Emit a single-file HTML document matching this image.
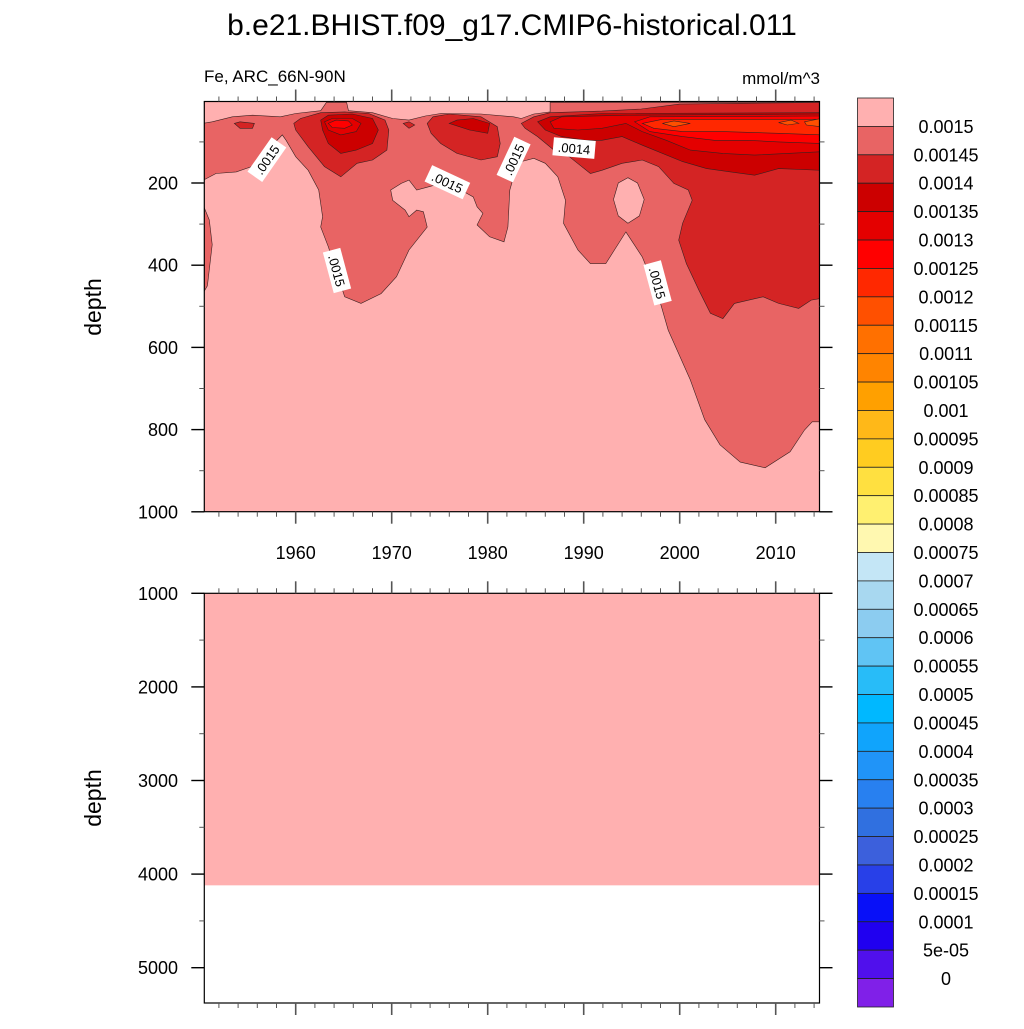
<!DOCTYPE html>
<html><head><meta charset="utf-8">
<style>
html,body{margin:0;padding:0;background:#fff;}
svg text{font-family:"Liberation Sans",sans-serif;}
</style></head>
<body>
<svg id="chart" width="1024" height="1024" viewBox="0 0 1024 1024" xmlns="http://www.w3.org/2000/svg">
<text x="512" y="35" font-size="30" text-anchor="middle">b.e21.BHIST.f09_g17.CMIP6-historical.011</text>
<text x="204" y="82" font-size="17">Fe, ARC_66N-90N</text>
<text x="820" y="84" font-size="17" text-anchor="end">mmol/m^3</text>
<g id="topPanel"></g>
<g id="bottomPanel"></g>
<g id="cbar"></g>
<text transform="translate(101,307) rotate(-90)" font-size="23" text-anchor="middle">depth</text>
<text transform="translate(101,798) rotate(-90)" font-size="23" text-anchor="middle">depth</text>
</svg>
<script>
const NS='http://www.w3.org/2000/svg';
// ---- data ----
const levelColors=['#FFB0B0','#E86464','#D42424','#CC0000','#E40000','#FF0000','#FF2800','#FF5000','#FF7000','#FF8400','#FFA000','#FFB818','#FFCC20','#FFE040','#FFF070','#FFF8B0','#C4E6F6','#A8D8F0','#8CCCF0','#60C4F4','#28BCF8','#00B8FF','#10A4FC','#2094F8','#2880F0','#3070E0','#3C60DC','#2840E8','#0810F8','#2000F0','#5010EC','#8020E8'];
const levelLabels=['0.0015','0.00145','0.0014','0.00135','0.0013','0.00125','0.0012','0.00115','0.0011','0.00105','0.001','0.00095','0.0009','0.00085','0.0008','0.00075','0.0007','0.00065','0.0006','0.00055','0.0005','0.00045','0.0004','0.00035','0.0003','0.00025','0.0002','0.00015','0.0001','5e-05','0'];
const yearTicks=[1960,1970,1980,1990,2000,2010];
const topDepthTicks=[200,400,600,800,1000];
const botDepthTicks=[1000,2000,3000,4000,5000];
const deepFillDepth=4120;
const regionMedium=[[1950.3,55],[1951.3,51],[1953.4,39],[1955.5,35],[1958.4,39],[1960,31],[1962.6,24],[1963.2,4],[1965.3,4],[1965.5,24],[1968,29],[1970.1,43],[1971.8,47],[1973.5,37],[1975.1,31],[1979.3,32],[1982.7,39],[1983.5,43],[1984.8,32],[1986.5,27],[1986.5,4],[2014.7,4],[2014.7,781],[2013.8,781],[2013,801],[2011.5,854],[2008.9,893],[2006.3,879],[2004.2,837],[2002.6,776],[2001.1,679],[1998.8,558],[1997.8,477],[1996.1,380],[1994.4,319],[1993.2,363],[1992.3,396],[1990.7,396],[1989.4,363],[1987.9,298],[1988.1,242],[1987.3,185],[1986,152],[1984.8,140],[1983.5,148],[1982.7,185],[1982.3,217],[1982.1,307],[1981.7,343],[1980.2,331],[1978.9,302],[1979.5,274],[1978.9,258],[1978.5,234],[1977.2,217],[1975.1,201],[1973.9,209],[1972.6,217],[1971.8,193],[1971,201],[1969.9,217],[1970.1,242],[1971.4,266],[1971.8,282],[1972.6,266],[1973.3,270],[1973.7,307],[1971.8,363],[1970.5,428],[1968.9,469],[1966.8,493],[1965.1,477],[1963.4,355],[1962.6,307],[1962.8,282],[1962.4,217],[1961.3,169],[1960,136],[1959,96],[1958.6,83],[1955.4,160],[1953.8,173],[1951.7,177],[1950.4,193],[1950.3,193]];
const regionLeftStrip=[[1950.3,250],[1951,290],[1951.3,350],[1950.8,450],[1950.3,470]];
const holeEllipse=[[1994.6,187],[1995.6,200],[1996.3,240],[1995.8,280],[1994.6,298],[1993.6,280],[1993.1,240],[1993.6,200]];
const regionD1=[[1959.8,55],[1960.5,43],[1962.6,29],[1965.1,27],[1967.6,31],[1969.3,47],[1969.7,71],[1969.5,120],[1968,144],[1966.4,152],[1964.7,185],[1963,160],[1961.3,112],[1960,71]];
const regionD2=[[1953.6,55],[1954.2,51],[1955.7,55],[1955.5,67],[1954.2,67]];
const regionD3=[[1971.2,55],[1971.8,51],[1972.4,59],[1971.8,67]];
const regionD4=[[1973.7,55],[1974.3,39],[1976,32],[1979.3,39],[1981,63],[1981.3,104],[1981,136],[1979.3,144],[1976.8,128],[1975.1,104],[1974.1,79]];
const regionD5=[[1983.5,55],[1984.8,39],[1986.5,29],[1991.9,25],[1996,20],[2000,8],[2014.7,4],[2014.7,481],[2013.7,485],[2012.4,505],[2010.3,493],[2008.7,477],[2005.7,493],[2004.5,530],[2003.2,517],[2002,461],[2000.7,396],[1999.9,339],[2000.3,298],[2001.3,242],[2000.9,217],[1999.4,201],[1997.8,160],[1996.1,144],[1994,152],[1991.9,169],[1990.7,177],[1988.5,136],[1986.9,120],[1985.2,87],[1983.9,67]];
const regionC1=[[1962.6,47],[1963.4,35],[1965.9,32],[1968,43],[1968.6,71],[1968,104],[1966.3,120],[1964.7,128],[1963.4,104],[1962.8,71]];
const regionC2=[[1976,55],[1976.8,47],[1978.5,43],[1980.2,55],[1980,79],[1978.1,71]];
const regionC3=[[1985.2,51],[1986.5,39],[1991.9,31],[2014.7,29],[2014.7,169],[2010.3,165],[2007.8,181],[2005.3,173],[2002.8,165],[2000.3,148],[1996.1,108],[1994,87],[1991.9,96],[1990.2,96],[1987.7,87],[1986,71]];
const regionE1=[[1963,51],[1963.8,43],[1965.9,43],[1966.8,55],[1966.3,75],[1964.7,83],[1963.4,71]];
const regionE3=[[1986.5,51],[1987.7,39],[1994.4,35],[2014.7,32],[2014.7,124],[2011.2,128],[2007.8,132],[2004.5,128],[2001.1,120],[1998.6,96],[1996.1,75],[1994.4,55],[1991.9,67],[1989.4,71],[1986.9,67]];
const regionF1=[[1963.4,55],[1964.2,47],[1965.5,49],[1965.9,59],[1965.1,67],[1963.8,65]];
const regionF3=[[1995.3,51],[1996.9,39],[2014.7,37],[2014.7,104],[2010.3,100],[2007,96],[2003.6,96],[2000.3,87],[1996.9,75]];
const regionG3=[[1996.1,55],[1998.2,45],[2014.7,45],[2014.7,83],[2010.3,79],[2004.5,75],[2000.3,75],[1997.3,67]];
const regionH3a=[[1998.2,55],[1999.4,49],[2001.1,55],[1999.4,63]];
const regionH3b=[[2010.3,53],[2011.6,47],[2012.4,55],[2011.2,59]];
const regionH3c=[[2013,51],[2014.7,43],[2014.7,63],[2013.2,59]];
const contourLabels=[['.0015',1957.0,143,-55],['.0015',1964.3,413,75],['.0015',1975.8,198,25],['.0015',1982.7,143,-65],['.0014',1989.0,115,5],['.0015',1997.7,443,75]];

// ---- axes ----
const L=204.3,R=819.5,T1=101.5,B1=511.7,T2=593.3,B2=1003;
const xS=y=>295.7+(y-1960)*9.6;
const yTop=d=>100.8+d*0.411;
const yBot=d=>593.3+(d-1000)*0.0936;
function el(tag,attrs,parent){const e=document.createElementNS(NS,tag);for(const k in attrs)e.setAttribute(k,attrs[k]);parent.appendChild(e);return e;}
const topG=document.getElementById('topPanel');
const botG=document.getElementById('bottomPanel');
const cbG=document.getElementById('cbar');
const defs=el('defs',{},document.getElementById('chart'));
const cp=el('clipPath',{id:'clipTop'},defs);
el('rect',{x:L,y:T1,width:R-L,height:B1-T1},cp);
const plotG=el('g',{'clip-path':'url(#clipTop)'},topG);


const bg=el('rect',{x:L,y:T1,width:R-L,height:B1-T1,fill:levelColors[0]},plotG);


function poly(pts,ci,name){
  const p=el('polygon',{points:pts.map(q=>xS(q[0]).toFixed(1)+','+yTop(q[1]).toFixed(1)).join(' '),fill:levelColors[ci],stroke:'#3a2020','stroke-width':'0.6'},plotG);
  
  
}
poly(regionMedium,1,'contour-region-00145');
poly(regionLeftStrip,1,'contour-region-left-strip');
poly(holeEllipse,0,'contour-hole-1995');
poly(regionD1,2,'contour-region-0014-1964');
poly(regionD2,2,'contour-region-0014-1954');
poly(regionD3,2,'contour-region-0014-1971');
poly(regionD4,2,'contour-region-0014-1977');
poly(regionD5,2,'contour-region-0014-recent');
poly(regionC1,3,'contour-region-00135-1964');
poly(regionC2,3,'contour-region-00135-1978');
poly(regionC3,3,'contour-region-00135-recent');
poly(regionE1,4,'contour-region-0013-1964');
poly(regionE3,4,'contour-region-0013-recent');
poly(regionF1,5,'contour-region-00125-1964');
poly(regionF3,5,'contour-region-00125-recent');
poly(regionG3,6,'contour-region-0012-recent');
poly(regionH3a,7,'contour-region-00115-a');
poly(regionH3b,7,'contour-region-00115-b');
poly(regionH3c,7,'contour-region-00115-c');
contourLabels.forEach(c=>{
  const g=el('g',{transform:`translate(${xS(c[1]).toFixed(1)},${yTop(c[2]).toFixed(1)}) rotate(${c[3]})`},plotG);
  
  
  el('rect',{x:-21,y:-9,width:42,height:18,fill:'#fff'},g);
  const t=el('text',{x:0,y:5,'font-size':'13','text-anchor':'middle'},g);
  t.textContent=c[0];
});
const lf=el('rect',{x:L,y:T2,width:R-L,height:yBot(deepFillDepth)-T2,fill:levelColors[0]},botG);


[[T1,B1,topG],[T2,B2,botG]].forEach(([t,b,g])=>{
  const f=el('rect',{x:L,y:t,width:R-L,height:b-t,fill:'none',stroke:'#000','stroke-width':'1.2'},g);
  
  
});
const tc='#555';
function xTicks(g,ty,dir){
  for(let y=1952;y<=2014;y+=2){
    const maj=y%10===0, len=maj?12:5;
    el('line',{x1:xS(y),x2:xS(y),y1:ty,y2:ty+dir*len,stroke:tc,'stroke-width':maj?1.6:1},g);
  }
}
xTicks(topG,T1,-1);xTicks(topG,B1,1);xTicks(botG,T2,-1);xTicks(botG,B2,1);
yearTicks.forEach(y=>{
  const t=el('text',{x:xS(y),y:559,'font-size':'18','text-anchor':'middle'},topG);
  
  
  t.textContent=y;
});
for(let d=100;d<=1000;d+=100){
  const maj=d%200===0,len=maj?13:5;
  el('line',{x1:L-len,x2:L,y1:yTop(d),y2:yTop(d),stroke:maj?'#000':tc,'stroke-width':maj?1.4:1},topG);
  el('line',{x1:R,x2:R+len,y1:yTop(d),y2:yTop(d),stroke:maj?'#000':tc,'stroke-width':maj?1.4:1},topG);
}
topDepthTicks.forEach(d=>{
  const t=el('text',{x:178,y:yTop(d)+6.5,'font-size':'18','text-anchor':'end'},topG);
  
  
  t.textContent=d;
});
for(let d=1000;d<=5000;d+=500){
  const maj=d%1000===0,len=maj?13:5;
  el('line',{x1:L-len,x2:L,y1:yBot(d),y2:yBot(d),stroke:maj?'#000':tc,'stroke-width':maj?1.4:1},botG);
  el('line',{x1:R,x2:R+len,y1:yBot(d),y2:yBot(d),stroke:maj?'#000':tc,'stroke-width':maj?1.4:1},botG);
}
botDepthTicks.forEach(d=>{
  const t=el('text',{x:178,y:yBot(d)+6.5,'font-size':'18','text-anchor':'end'},botG);
  
  
  t.textContent=d;
});
const cbT=98,cbH=(1007-98)/levelColors.length;
levelColors.forEach((c,i)=>{
  const r=el('rect',{x:857.5,y:cbT+i*cbH,width:36,height:cbH,fill:c,stroke:'#222','stroke-width':'0.8'},cbG);
  
  
});
levelLabels.forEach((s,i)=>{
  const t=el('text',{x:946,y:cbT+(i+1)*cbH+6.5,'font-size':'18','text-anchor':'middle'},cbG);
  
  
  t.textContent=s;
});
</script>
</body></html>
